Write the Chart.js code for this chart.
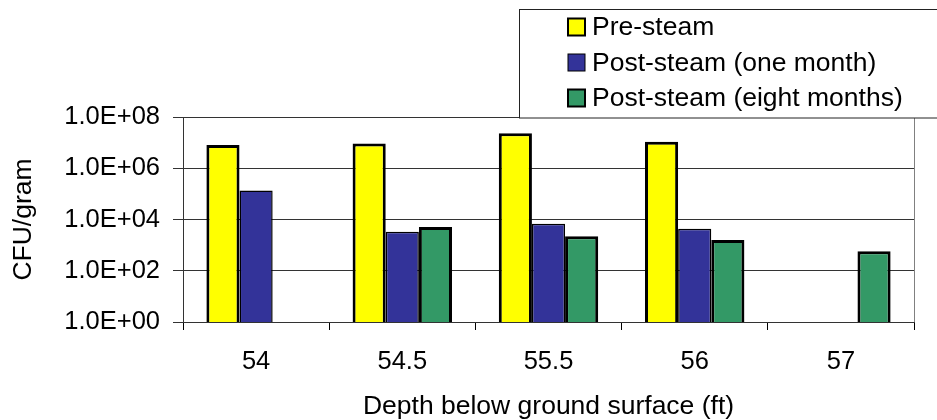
<!DOCTYPE html>
<html>
<head>
<meta charset="utf-8">
<script src="https://cdn.jsdelivr.net/npm/chart.js@4"></script>
<style>
  html, body { margin: 0; padding: 0; background: #fff; }
  #wrap { width: 937px; height: 420px; position: relative; }
</style>
</head>
<body>
<div id="wrap"><canvas id="myChart" width="937" height="420"></canvas></div>
<script>
const depths = ['54', '54.5', '55.5', '56', '57'];
const seriesNames = ['Pre-steam', 'Post-steam (one month)', 'Post-steam (eight months)'];
const preSteam = [8.0e6, 9.3e6, 2.3e7, 1.07e7, null];
const postOneMonth = [1.35e5, 3.3e3, 6.9e3, 4.4e3, null];
const postEightMonths = [null, 5.1e3, 2.2e3, 1.6e3, 580];
const yTicks = [1, 1e2, 1e4, 1e6, 1e8];

const FONT = "'Liberation Sans', Arial, sans-serif";

function sciLabel(v) {
    // 1.0E+08 style like the spreadsheet
    const parts = Number(v).toExponential(1).toUpperCase().split('E');
    let exp = parts[1];
    const sign = exp[0] === '-' ? '-' : '+';
    exp = exp.replace(/[+-]/, '');
    if (exp.length < 2) exp = '0' + exp;
    return parts[0] + 'E' + sign + exp;
}

// draws the plot border and the boxed legend on top
const boxLegend = {
    id: 'boxLegend',
    afterDraw(chart) {
        const ctx = chart.ctx;
        const a = chart.chartArea;
        ctx.save();
        ctx.strokeStyle = '#808080';
        ctx.lineWidth = 1;
        ctx.beginPath();
        ctx.moveTo(Math.round(a.right) + 0.5, a.top);
        ctx.lineTo(Math.round(a.right) + 0.5, a.bottom);
        ctx.stroke();

        ctx.fillStyle = '#fff';
        ctx.fillRect(519.5, 9.5, 430, 108.5);
        ctx.strokeStyle = '#222';
        ctx.strokeRect(519.5, 9.5, 430, 108.5);

        ctx.font = '26.5px ' + FONT;
        ctx.textBaseline = 'middle';
        chart.data.datasets.forEach((ds, i) => {
            const y = 27 + i * 35.5;
            ctx.fillStyle = ds.backgroundColor;
            ctx.fillRect(568, y - 8.5, 17, 17);
            ctx.strokeStyle = '#000';
            ctx.lineWidth = i === 1 ? 1 : 2;
            ctx.strokeRect(568, y - 8.5, 17, 17);
            ctx.fillStyle = '#000';
            ctx.fillText(ds.label, 592, y + 1);
        });
        ctx.restore();
    }
};

function mainEvent() {
    const chartTarget = document.querySelector('#myChart');
    const colors = ['#FFFF00', '#333399', '#339966'];
    const borders = [3, 1.5, 3];
    const values = [preSteam, postOneMonth, postEightMonths];

    const chart = new Chart(chartTarget, {
        type: 'bar',
        data: {
            labels: depths,
            datasets: seriesNames.map((name, i) => ({
                label: name,
                data: values[i],
                backgroundColor: colors[i],
                borderColor: '#000',
                borderWidth: borders[i],
                borderSkipped: 'bottom',
                categoryPercentage: 0.68,
                barPercentage: 1
            }))
        },
        options: {
            responsive: false,
            animation: false,
            layout: { padding: { top: 117, right: 23, left: 0, bottom: 0 } },
            plugins: {
                legend: { display: false },
                tooltip: { enabled: false }
            },
            scales: {
                x: {
                    grid: {
                        offset: true,
                        drawOnChartArea: false,
                        color: '#000',
                        tickLength: 8
                    },
                    border: { color: '#333', width: 1 },
                    ticks: {
                        color: '#000',
                        font: { family: FONT, size: 25.5 },
                        padding: 17,
                        maxRotation: 0
                    },
                    title: {
                        display: true,
                        text: 'Depth below ground surface (ft)',
                        color: '#000',
                        font: { family: FONT, size: 26.5, lineHeight: 1 },
                        padding: { top: -2, bottom: 0 }
                    },
                    afterFit(scale) { scale.height = 98; }
                },
                y: {
                    type: 'logarithmic',
                    min: 1,
                    max: 1e8,
                    afterBuildTicks(scale) {
                        scale.ticks = yTicks.map(v => ({ value: v }));
                    },
                    grid: {
                        color: '#333',
                        lineWidth: 1,
                        tickLength: 10
                    },
                    border: { color: '#333', width: 1 },
                    ticks: {
                        color: '#000',
                        font: { family: FONT, size: 25.5 },
                        padding: 13,
                        callback: (v) => sciLabel(v)
                    },
                    title: {
                        display: true,
                        text: 'CFU/gram',
                        color: '#000',
                        font: { family: FONT, size: 26.5, lineHeight: 1 },
                        padding: { top: 10, bottom: 0 }
                    },
                    afterFit(scale) { scale.width = 183; }
                }
            }
        },
        plugins: [boxLegend]
    });
    return chart;
}

document.addEventListener('DOMContentLoaded', () => mainEvent());
</script>
</body>
</html>
